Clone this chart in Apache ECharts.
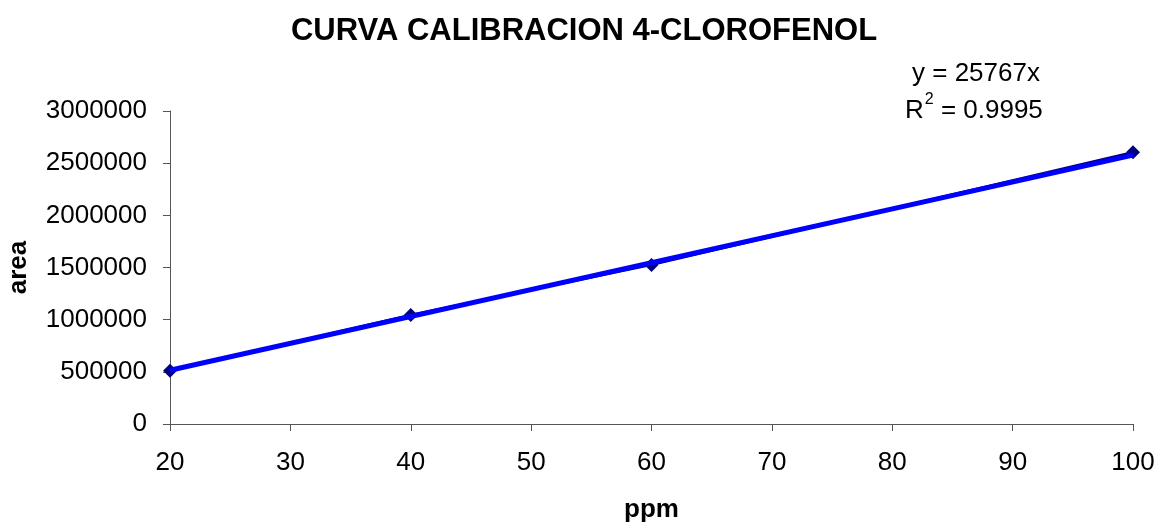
<!DOCTYPE html>
<html>
<head>
<meta charset="utf-8">
<script src="https://cdn.jsdelivr.net/npm/echarts@6/dist/echarts.min.js"></script>
<style>
  html, body { margin: 0; padding: 0; background: #fff; }
  #main { width: 1158px; height: 522px; }
</style>
</head>
<body>
<div id="main"></div>
<script>
// measured points
const ppm = [20, 40, 60, 100];
const area = [510000, 1045000, 1525000, 2605000];

// trendline y = 25767x, ends at the first and last ppm
const trendPpm = [20, 100];
const trendArea = [515340, 2576700];

const yTicks = [0, 500000, 1000000, 1500000, 2000000, 2500000, 3000000];

const chart = echarts.init(document.getElementById('main'));

const font = 'Liberation Sans, Arial, sans-serif';

chart.setOption({
    animation: false,
    title: {
        text: 'CURVA CALIBRACION 4-CLOROFENOL',
        left: 579,
        top: 11,
        textAlign: 'center',
        textStyle: { fontFamily: font, fontWeight: 'bold', fontSize: 31, color: '#000' }
    },
    grid: { left: 170, right: 25, top: 111, bottom: 98, outerBoundsMode: 'none' },
    xAxis: {
        type: 'value',
        min: 20,
        max: 100,
        interval: 10,
        name: 'ppm',
        nameLocation: 'middle',
        nameGap: 73,
        nameTextStyle: { fontFamily: font, fontWeight: 'bold', fontSize: 26, color: '#000' },
        axisLine: { show: true, lineStyle: { color: '#555', width: 1 } },
        axisTick: { show: true, inside: false, length: 7, lineStyle: { color: '#555' } },
        axisLabel: { fontFamily: font, fontSize: 26, color: '#000', margin: 26 },
        splitLine: { show: false }
    },
    yAxis: {
        type: 'value',
        min: 0,
        max: yTicks[yTicks.length - 1],
        interval: 500000,
        name: 'area',
        nameLocation: 'middle',
        nameRotate: 90,
        nameGap: 138,
        nameTextStyle: { fontFamily: font, fontWeight: 'bold', fontSize: 26, color: '#000' },
        axisLine: { show: true, lineStyle: { color: '#555', width: 1 } },
        axisTick: { show: true, inside: false, length: 7, lineStyle: { color: '#555' } },
        axisLabel: {
            fontFamily: font, fontSize: 26, color: '#000', margin: 23,
            formatter: v => String(v)
        },
        splitLine: { show: false }
    },
    graphic: [
        {
            type: 'text',
            left: 912,
            top: 61,
            style: { text: 'y = 25767x', font: '26px ' + font, fill: '#000' }
        },
        {
            type: 'text',
            left: 905,
            top: 92,
            style: {
                text: '{b|R}{s|2}{b| = 0.9995}',
                fill: '#000',
                rich: {
                    b: { fontFamily: font, fontSize: 26, verticalAlign: 'bottom', lineHeight: 32 },
                    s: { fontFamily: font, fontSize: 16, verticalAlign: 'top', lineHeight: 32, padding: [0, 0, 0, 1] }
                }
            }
        }
    ],
    series: [
        {
            name: 'area',
            type: 'line',
            data: ppm.map((x, i) => [x, area[i]]),
            symbol: 'diamond',
            symbolSize: 14,
            itemStyle: { color: '#000080' },
            lineStyle: { color: '#000080', width: 2.5 },
            z: 2
        },
        {
            name: 'tendencia',
            type: 'line',
            data: trendPpm.map((x, i) => [x, trendArea[i]]),
            symbol: 'none',
            lineStyle: { color: '#0000FF', width: 5 },
            z: 3
        }
    ]
});
</script>
</body>
</html>
